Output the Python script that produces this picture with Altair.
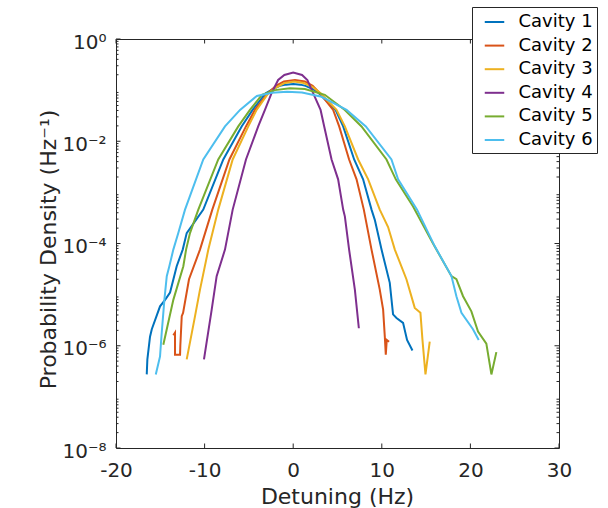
import altair as alt
import pandas as pd

# ---- data (detuning in Hz, probability density in 1/Hz) ----
cav1_x = [-16.53, -16.46, -16.16, -15.96, -15.03, -14.46, -13.9, -13.15, -12.47, -12.02, -10.15, -7.89,
          -5.82, -4.58, -3.1, -2.3, -1.5, -0.8, 0.0, 0.8, 1.4, 2.2, 2.9, 4.78, 5.64, 6.88, 7.89, 8.84,
          9.21, 9.97, 10.9, 11.27, 11.66, 12.4, 12.85, 13.46]
cav1_y = [2.75e-7, 5.4e-7, 1.5e-6, 2.1e-6, 5.9e-6, 7.9e-6, 1.1e-5, 3.6e-5, 7.6e-5, 1.6e-4, 4.6e-4, 4.4e-3,
          1.95e-2, 4.1e-2, 8.7e-2, 0.105, 0.121, 0.128, 0.132, 0.128, 0.121, 0.105, 8.7e-2, 4.1e-2, 1.95e-2,
          4.4e-3, 1.8e-3, 4.6e-4, 2.9e-4, 7.6e-5, 1.7e-5, 4.1e-6, 3.5e-6, 2.8e-6, 1.3e-6, 8.1e-7]

cav2_x = [-13.53, -13.34, -13.34, -12.77, -12.74, -12.58, -12.43, -11.76, -10.52, -9.13, -7.2, -5.33,
          -4.32, -2.85, -1.95, -1.05, 0.2, 1.32, 2.2, 3.0, 4.51, 5.19, 6.31, 7.15, 7.97, 8.84, 9.77,
          10.15, 10.34, 10.45, 10.56, 10.82]
cav2_y = [1.6e-6, 1.8e-6, 6.7e-7, 6.7e-7, 1.0e-6, 3.8e-6, 4.4e-6, 2.0e-5, 7.6e-5, 4.6e-4, 4.4e-3, 1.95e-2,
          4.1e-2, 8.7e-2, 0.121, 0.148, 0.158, 0.148, 0.121, 8.7e-2, 4.1e-2, 1.95e-2, 4.4e-3, 1.8e-3,
          4.6e-4, 7.6e-5, 1.25e-5, 5.1e-6, 1.5e-6, 6.7e-7, 1.3e-6, 1.2e-6]

cav3_x = [-12.02, -11.08, -10.52, -9.58, -8.46, -6.83, -5.07, -4.13, -2.8, -1.84, -0.94, 0.1, 1.2, 2.2,
          3.1, 4.89, 5.83, 7.33, 8.46, 9.77, 10.71, 11.47, 12.78, 13.72, 14.36, 14.59, 14.93, 15.41]
cav3_y = [5.4e-7, 3.8e-6, 1.25e-5, 7.6e-5, 4.6e-4, 4.4e-3, 1.95e-2, 4.1e-2, 8.7e-2, 0.115, 0.138, 0.147,
          0.138, 0.115, 8.7e-2, 4.1e-2, 1.95e-2, 4.4e-3, 1.8e-3, 4.6e-4, 2.1e-4, 7.6e-5, 2.0e-5, 5.5e-6,
          4.4e-6, 1.3e-6, 2.75e-7, 1.2e-6]

cav4_x = [-10.07, -9.2, -8.64, -7.7, -6.83, -5.33, -3.95, -3.19, -2.44, -1.7, -1.0, 0.0, 1.0, 1.6, 2.25,
          3.09, 3.5, 4.33, 5.07, 5.64, 5.83, 6.31, 6.96, 7.41]
cav4_y = [5.4e-7, 5.1e-6, 2.3e-5, 7.6e-5, 4.6e-4, 4.4e-3, 1.95e-2, 4.1e-2, 8.7e-2, 0.158, 0.198, 0.22,
          0.198, 0.158, 8.7e-2, 4.1e-2, 1.95e-2, 4.4e-3, 1.8e-3, 4.6e-4, 3.4e-4, 7.6e-5, 1.25e-5, 2.2e-6]

cav5_x = [-14.66, -13.53, -12.4, -12.09, -11.65, -10.71, -8.46, -6.2, -4.88, -3.53, -2.06, -0.37, 1.32,
          3.57, 5.83, 7.71, 10.53, 11.58, 13.53, 15.78, 17.86, 18.42, 19.17, 20.11, 20.86, 21.8, 22.37, 22.93]
cav5_y = [1.05e-6, 7.9e-6, 3.6e-5, 7.6e-5, 1.6e-4, 4.6e-4, 4.4e-3, 1.95e-2, 4.1e-2, 8.1e-2, 0.1, 0.109,
          0.105, 8.1e-2, 4.1e-2, 1.95e-2, 4.4e-3, 1.8e-3, 5.3e-4, 1.0e-4, 2.3e-5, 2.0e-5, 9.3e-6, 4.7e-6,
          1.9e-6, 1.1e-6, 2.75e-7, 7.5e-7]

cav6_x = [-15.51, -15.03, -14.84, -14.54, -14.27, -13.98, -13.53, -12.97, -12.21, -10.15, -7.7, -6.0,
          -4.1, -2.4, -0.7, 1.0, 3.2, 6.02, 8.2, 11.09, 11.84, 13.98, 15.98, 17.86, 18.42, 18.99, 20.29, 20.94]
cav6_y = [2.75e-7, 6.2e-7, 1.8e-6, 7.9e-6, 2.3e-5, 3.6e-5, 7.6e-5, 1.6e-4, 4.6e-4, 4.4e-3, 1.95e-2,
          4.1e-2, 7.7e-2, 8.9e-2, 9.3e-2, 9.0e-2, 7.4e-2, 4.1e-2, 1.95e-2, 4.4e-3, 1.8e-3, 4.6e-4, 8.8e-5,
          2.3e-5, 9.3e-6, 4.4e-6, 2.1e-6, 1.3e-6]

names = ["Cavity 1", "Cavity 2", "Cavity 3", "Cavity 4", "Cavity 5", "Cavity 6"]
colors = ["#0072BD", "#D95319", "#EDB120", "#7E2F8E", "#77AC30", "#4DBEEE"]

x_ticks = [-20, -10, 0, 10, 20, 30]
y_major = [1e-8, 1e-6, 1e-4, 1e-2, 1.0]
y_minor = [m * 10.0 ** k for k in range(-8, 0) for m in range(2, 10)]

# ---- build table ----
rows = []
for name, xs, ys in zip(names,
                        [cav1_x, cav2_x, cav3_x, cav4_x, cav5_x, cav6_x],
                        [cav1_y, cav2_y, cav3_y, cav4_y, cav5_y, cav6_y]):
    for i, (a, b) in enumerate(zip(xs, ys)):
        rows.append({"series": name, "i": i, "x": a, "y": b})
df = pd.DataFrame(rows)

W, H = 443, 409
INK = "#262626"
FONT = "DejaVu Sans"

xscale = alt.Scale(domain=[-20, 30], nice=False, zero=False)
yscale = alt.Scale(type="log", domain=[1e-8, 1], nice=False)

y_label_expr = ("datum.value >= 0.5 ? '10\u2070' : datum.value >= 0.005 ? '10\u207b\u00b2' : "
                "datum.value >= 5e-5 ? '10\u207b\u2074' : datum.value >= 5e-7 ? '10\u207b\u2076' : '10\u207b\u2078'")

lines = alt.Chart(df).mark_line(strokeWidth=2).encode(
    x=alt.X("x:Q", scale=xscale,
            axis=alt.Axis(values=x_ticks, title="Detuning (Hz)", labelExpr="datum.value + ''",
                          labelBaseline="alphabetic", labelPadding=28, labelFlush=False,
                          labelOverlap=False,
                          titleX=221, titleY=55, titleBaseline="alphabetic")),
    y=alt.Y("y:Q", scale=yscale,
            axis=alt.Axis(values=y_major, labelExpr=y_label_expr, title="Probability Density (Hz\u207b\u00b9)",
                          labelPadding=10, labelOffset=3, labelAlign="right", labelBaseline="middle",
                          labelFlush=False, labelOverlap=False,
                          titleX=-61, titleY=210, titleAngle=-90, titleBaseline="alphabetic",
                          titleAlign="center")),
    color=alt.Color("series:N", scale=alt.Scale(domain=names, range=colors),
                    legend=alt.Legend(orient="none", legendX=356, legendY=-32, title=None,
                                      symbolType="stroke", symbolSize=380, symbolStrokeWidth=2,
                                      symbolOffset=7.5, labelOffset=13, labelFontSize=18,
                                      labelFont=FONT, labelColor="#000000", padding=4, rowPadding=3.6,
                                      strokeColor=INK, fillColor="white", labelLimit=0)),
    order=alt.Order("i:Q"),
)

xt = pd.DataFrame({"x": x_ticks})
yt = pd.DataFrame({"y": y_major})
ym = pd.DataFrame({"y": y_minor})

def xtick(y0, y1):
    return alt.Chart(xt).mark_rule(color=INK, strokeWidth=1).encode(
        x=alt.X("x:Q", scale=xscale), y=alt.value(y0), y2=alt.value(y1))

def ytick(data, x0, x1):
    return alt.Chart(data).mark_rule(color=INK, strokeWidth=1).encode(
        y=alt.Y("y:Q", scale=yscale), x=alt.value(x0), x2=alt.value(x1))

layers = [
    lines,
    xtick(H, H - 4.5), xtick(0, 4.5),
    ytick(yt, 0, 4.5), ytick(yt, W, W - 4.5),
    ytick(ym, 0, 2.5), ytick(ym, W, W - 2.5),
]

chart = alt.layer(*layers).properties(
    width=W, height=H,
    autosize=alt.AutoSizeParams(type="none"),
    padding={"left": 116, "top": 39, "right": 49, "bottom": 60},
    background="white",
).configure_view(
    stroke=INK, strokeWidth=1
).configure_axis(
    domain=False, ticks=False, tickSize=0, grid=False,
    labelFont=FONT, labelFontSize=20, labelColor=INK,
    titleFont=FONT, titleFontSize=22, titleColor=INK, titleFontWeight="normal",
)

chart.save("out.html", embed_options={"renderer": "svg", "actions": False})
